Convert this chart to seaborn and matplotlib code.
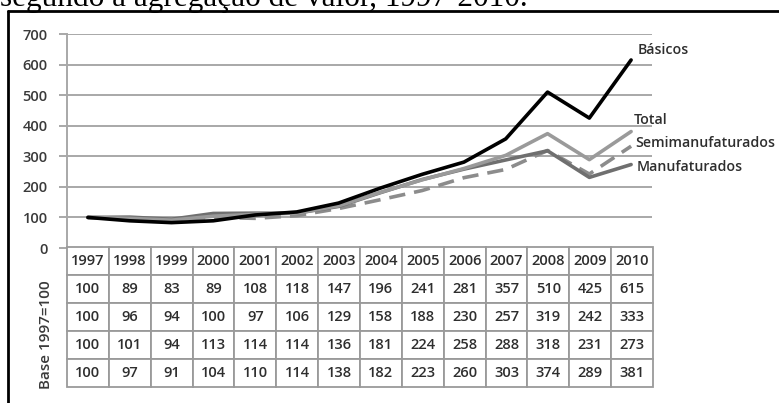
import matplotlib
matplotlib.use("Agg")
import matplotlib.pyplot as plt
from matplotlib.lines import Line2D
import seaborn as sns
import pandas as pd

years = [1997, 1998, 1999, 2000, 2001, 2002, 2003, 2004, 2005, 2006, 2007, 2008, 2009, 2010]
basicos = [100, 89, 83, 89, 108, 118, 147, 196, 241, 281, 357, 510, 425, 615]
semimanufaturados = [100, 96, 94, 100, 97, 106, 129, 158, 188, 230, 257, 319, 242, 333]
manufaturados = [100, 101, 94, 113, 114, 114, 136, 181, 224, 258, 288, 318, 231, 273]
total = [100, 97, 91, 104, 110, 114, 138, 182, 223, 260, 303, 374, 289, 381]
series_names = ["Semimanufaturados", "Manufaturados", "Total", "Básicos"]
series_values = [semimanufaturados, manufaturados, total, basicos]
y_ticks = [0, 100, 200, 300, 400, 500, 600, 700]
caption = "segundo a agregação de valor, 1997-2010."
row_label = "Base 1997=100"

sns.set_theme(style="white")
plt.rcParams['font.family'] = ['Open Sans', 'DejaVu Sans']

W, H = 779, 403
fig = plt.figure(figsize=(W / 100, H / 100), dpi=100)

def fx(px):
    return px / W

def fy(py):
    return 1 - py / H

# main chart axes
ax_left, ax_right, ax_top, ax_bot = 67, 652, 34, 248
ax = fig.add_axes([fx(ax_left), fy(ax_bot), fx(ax_right - ax_left), (ax_bot - ax_top) / H])

rows = []
for name, vals in zip(series_names, series_values):
    for yr, v in zip(years, vals):
        rows.append({"ano": yr, "valor": v, "serie": name})
df = pd.DataFrame(rows)

palette = {"Básicos": "#000000", "Total": "#9a9a9a",
           "Semimanufaturados": "#8c8c8c", "Manufaturados": "#6f6f6f"}
dashes = {"Básicos": "", "Total": "", "Semimanufaturados": (4.5, 2.5), "Manufaturados": ""}

sns.lineplot(data=df, x="ano", y="valor", hue="serie", style="serie",
             hue_order=series_names, style_order=series_names,
             palette=palette, dashes=dashes, linewidth=2.6, legend=False,
             sort=False, ax=ax)

ax.set_xlim(years[0] - 0.5, years[-1] + 0.5)
ax.set_ylim(0, 700)
ax.set_yticks(y_ticks)
ax.set_yticklabels([str(t) for t in y_ticks], fontsize=10.5, color="#3a3a3a",
                   fontweight="semibold")
ax.set_xticks([])
ax.set_xlabel("")
ax.set_ylabel("")
ax.grid(axis="y", color="#a8a8a8", linewidth=1.4)
ax.set_axisbelow(True)
for s in ["top", "right", "bottom"]:
    ax.spines[s].set_visible(False)
ax.spines["left"].set_color("#a8a8a8")
ax.spines["left"].set_linewidth(1.4)
ax.tick_params(axis="y", length=6, width=1.4, color="#a8a8a8", pad=8, left=True)

# end labels
label_offsets = {"Básicos": (5, 7), "Total": (2, 8), "Semimanufaturados": (3, 2),
                 "Manufaturados": (4, -2)}
for name, vals in zip(series_names, series_values):
    dx, dy = label_offsets[name]
    ax.annotate(name, xy=(years[-1], vals[-1]), xytext=(dx, dy),
                textcoords="offset points", ha="left", va="center",
                fontsize=10.2, color="#2e2e2e", fontweight="semibold",
                annotation_clip=False)

# table
tb_left, tb_right, tb_top, tb_bot = 67, 653, 247, 387
axt = fig.add_axes([fx(tb_left), fy(tb_bot), fx(tb_right - tb_left), (tb_bot - tb_top) / H])
axt.axis("off")
cell_text = [[str(y) for y in years]]
for vals in [basicos, semimanufaturados, manufaturados, total]:
    cell_text.append([str(v) for v in vals])
tbl = axt.table(cellText=cell_text, cellLoc="center", bbox=[0, 0, 1, 1])
tbl.auto_set_font_size(False)
for (r, c), cell in tbl.get_celld().items():
    cell.set_edgecolor("#9a9a9a")
    cell.set_linewidth(1.3)
    cell.set_text_props(fontsize=10.5, color="#2e2e2e", fontweight="semibold")

fig.text(fx(46), fy(335), row_label, rotation=90, ha="center", va="center",
         fontsize=11, color="#3a3a3a", fontweight="semibold")

# caption (cut off at top, as in the source)
fig.text(0.0, fy(6), caption, ha="left", va="baseline",
         family=["Liberation Serif"], fontsize=22.5, color="#000000")

# frame
fig.add_artist(Line2D([fx(8), 1.0], [fy(11), fy(11)], color="black", linewidth=2,
                      transform=fig.transFigure))
fig.add_artist(Line2D([fx(8), fx(8)], [fy(11), 0.0], color="black", linewidth=2,
                      transform=fig.transFigure))

fig.savefig("out.png", dpi=100)
